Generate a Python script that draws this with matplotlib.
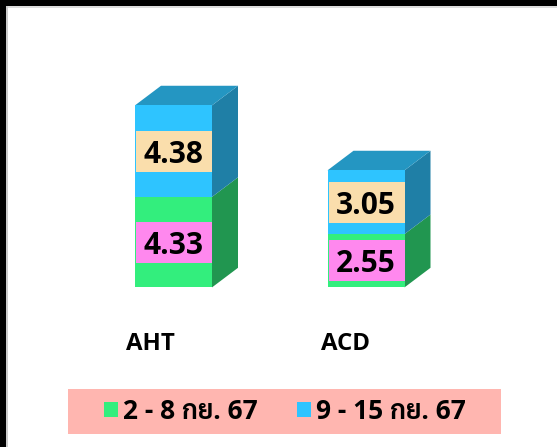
import matplotlib
matplotlib.use('Agg')
from matplotlib import pyplot as plt
from matplotlib.patches import Rectangle, Patch

categories = ['AHT', 'ACD']
week1 = [4.33, 2.55]    # green, bottom
week2 = [4.38, 3.05]    # blue, top
week_labels = ['2 - 8 กย. 67', '9 - 15 กย. 67']

W, H = 557, 447
px_x = 192.5     # pixels per category
px_y = 20.9      # pixels per unit
x0, y0 = 173.5, 287.4   # where category 0 / value 0 sit
bar_w = 77 / px_x
dx = 26 / px_x   # 3d depth
dy = 19.6 / px_y
name_shift = [-23, -20]   # category names sit left of the bars

green, blue = '#33EE7D', '#2EC4FF'
green_side, blue_side, blue_top = '#219650', '#1F7FA6', '#2496C2'

plt.rcParams['font.family'] = ['Open Sans', 'Sarabun', 'Bai Jamjuree']
plt.rcParams['font.weight'] = 'bold'

fig = plt.figure(figsize=(W / 100, H / 100), dpi=100)
ax = fig.add_axes([0, 0, 1, 1])
ax.set_xlim(-x0 / px_x, (W - x0) / px_x)
ax.set_ylim(-(H - y0) / px_y, y0 / px_y)
ax.axis('off')

# window frame of the screenshot
for x, y, w, h, c in [(0, 1 - 8 / H, 1, 8 / H, '#dddddd'), (0, 0, 8 / W, 1, '#cccccc'),
                      (0, 1 - 6 / H, 1, 6 / H, 'black'), (0, 0, 6 / W, 1, 'black')]:
    fig.add_artist(Rectangle((x, y), w, h, transform=fig.transFigure, color=c, lw=0))

# front faces
ax.bar(range(2), week1, width=bar_w, color=green, zorder=2)
ax.bar(range(2), week2, width=bar_w, bottom=week1, color=blue, zorder=2)

# side and top faces
for i in range(2):
    r = i + bar_w / 2
    l = i - bar_w / 2
    a, b = week1[i], week1[i] + week2[i]
    ax.fill([r, r + dx, r + dx, r], [0, dy, a + dy, a], color=green_side, lw=0, zorder=1)
    ax.fill([r, r + dx, r + dx, r], [a, a + dy, b + dy, b], color=blue_side, lw=0, zorder=1)
    ax.fill([l, l + dx, r + dx, r], [b, b + dy, b + dy, b], color=blue_top, lw=0, zorder=1)

    # value labels
    ax.text(i, a / 2, f'{week1[i]:.2f}', ha='center', va='center_baseline', fontsize=21.5,
            color='black', zorder=4)
    ax.text(i, a + week2[i] / 2, f'{week2[i]:.2f}', ha='center', va='center_baseline', fontsize=21.5,
            color='black', zorder=4)
    ax.add_patch(Rectangle((l + 1 / px_x, a / 2 - 20.5 / px_y), bar_w - 1 / px_x, 41 / px_y,
                           color='#FF88EE', lw=0, zorder=3))
    ax.add_patch(Rectangle((l + 1 / px_x, a + week2[i] / 2 - 20.5 / px_y), bar_w - 1 / px_x, 41 / px_y,
                           color='#FADEAC', lw=0, zorder=3))

    # category names
    ax.text(i + name_shift[i] / px_x, -(344.5 - y0) / px_y, categories[i], ha='center', va='center', fontsize=17.3)

# legend strip
ax.add_patch(Rectangle((68 / W, 1 - 434 / H), 433 / W, 45 / H, transform=ax.transAxes,
                       color='#FFB6B0', lw=0, zorder=0.5))
handles = [Patch(color=green, lw=0), Patch(color=blue, lw=0)]
leg = ax.legend(handles, week_labels, ncol=2, frameon=False, loc='center',
                bbox_to_anchor=(285 / W, 1 - 411.5 / H), fontsize=19,
                handlelength=0.53, handleheight=0.53, handletextpad=0.2, columnspacing=1.48,
                borderpad=0, labelspacing=0)
plt.savefig('out.png', dpi=100)
